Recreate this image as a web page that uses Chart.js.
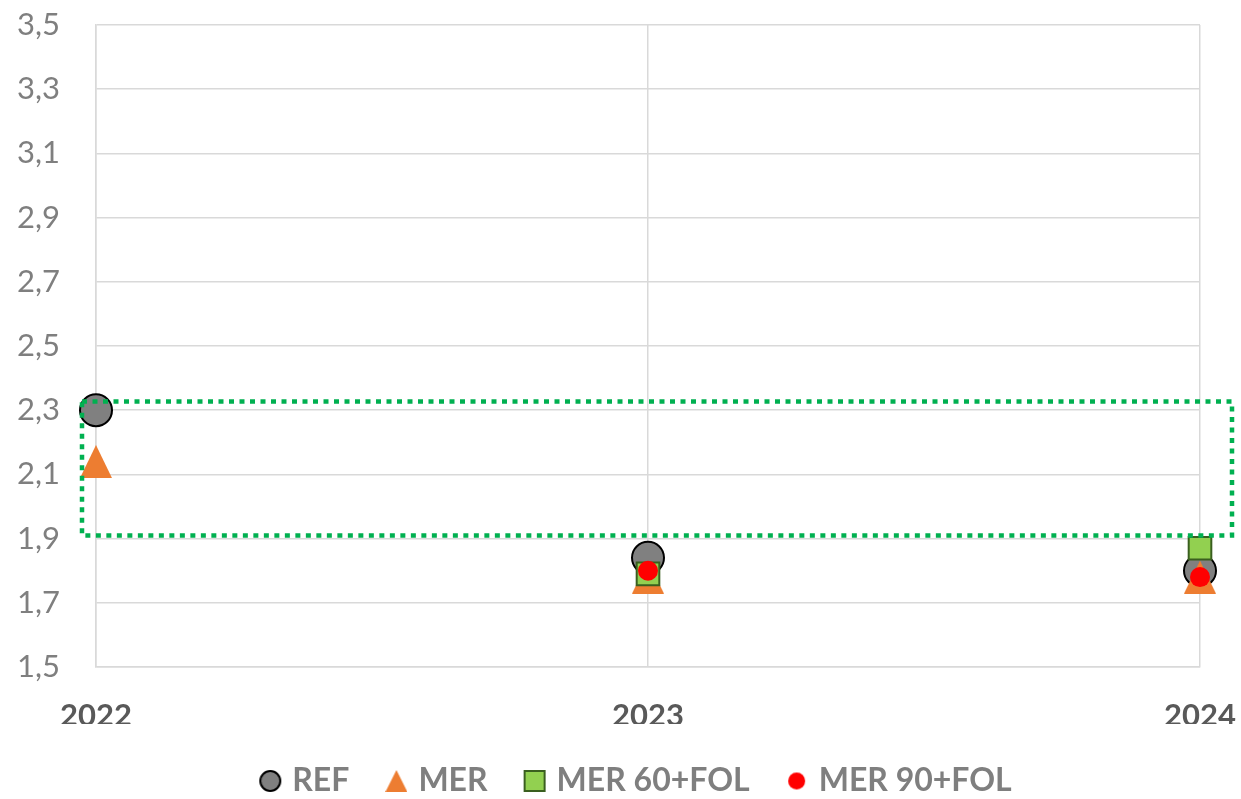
<!DOCTYPE html>
<html>
<head>
<meta charset="utf-8">
<script src="https://cdn.jsdelivr.net/npm/chart.js@4.4.1/dist/chart.umd.min.js"></script>
<style>
  html, body { margin: 0; padding: 0; background: #fff; }
  #wrap { width: 1241px; height: 799px; }
</style>
</head>
<body>
<div id="wrap"><canvas id="myChart"></canvas></div>
<script>
const years = [2022, 2023, 2024];
const yTicks = [1.5, 1.7, 1.9, 2.1, 2.3, 2.5, 2.7, 2.9, 3.1, 3.3, 3.5];
const ref = [2.30, 1.84, 1.80];
const mer = [2.14, 1.78, 1.78];
const mer60 = [null, 1.79, 1.87];
const mer90 = [null, 1.80, 1.78];
// dotted highlight band
const bandTop = 2.327;
const bandBottom = 1.91;

const FONT = 'Lato, "Open Sans", sans-serif';

function pts(arr) {
  return years.map((y, i) => ({ x: y, y: arr[i] }));
}

// Excel-like isosceles triangle (as wide as tall)
function triangle(w, h, color) {
  const c = document.createElement('canvas');
  c.width = w; c.height = h;
  const g = c.getContext('2d');
  g.fillStyle = color;
  g.beginPath();
  g.moveTo(w / 2, 0);
  g.lineTo(w, h);
  g.lineTo(0, h);
  g.closePath();
  g.fill();
  return c;
}

function marker(kind, size) {
  const c = document.createElement('canvas');
  c.width = size + 2; c.height = size + 2;
  const g = c.getContext('2d');
  const m = (size + 2) / 2;
  if (kind === 'ref') {
    g.fillStyle = '#808080'; g.strokeStyle = '#000'; g.lineWidth = 2;
    g.beginPath(); g.arc(m, m, size / 2 - 1, 0, Math.PI * 2); g.fill(); g.stroke();
  } else if (kind === 'sq') {
    g.fillStyle = '#92d050'; g.strokeStyle = '#3a5f1f'; g.lineWidth = 2;
    g.fillRect(2, 2, size - 2, size - 2); g.strokeRect(2, 2, size - 2, size - 2);
  } else {
    g.fillStyle = '#ff0000';
    g.beginPath(); g.arc(m, m, size / 2, 0, Math.PI * 2); g.fill();
  }
  return c;
}

const legendStyles = [marker('ref', 22), triangle(22, 22, '#ed7d31'), marker('sq', 22), marker('red', 17)];

const bandPlugin = {
  id: 'band',
  afterLayout(chart) {
    // centre the legend under the plot like the original
    chart.legend.left += 38;
    chart.legend.right += 38;
  },
  afterDatasetsDraw(chart) {
    const { ctx, scales } = chart;
    const x1 = scales.x.getPixelForValue(years[0]) - 14;
    const x2 = scales.x.getPixelForValue(years[2]) + 32;
    const y1 = scales.y.getPixelForValue(bandTop);
    const y2 = scales.y.getPixelForValue(bandBottom);
    ctx.save();
    ctx.strokeStyle = '#00b050';
    ctx.lineWidth = 4.5;
    ctx.setLineDash([5, 5.5]);
    ctx.strokeRect(x1, y1, x2 - x1, y2 - y1);
    ctx.restore();
  }
};

const ctx1 = document.getElementById('myChart');

new Chart(ctx1, {
  type: 'scatter',
  data: {
    datasets: [{
      label: 'REF',
      data: pts(ref),
      pointStyle: 'circle',
      pointRadius: 16,
      backgroundColor: '#808080',
      borderColor: '#000000',
      borderWidth: 2,
      order: 4,
      clip: false
    }, {
      label: 'MER',
      data: pts(mer),
      pointStyle: triangle(32, 33, '#ed7d31'),
      backgroundColor: '#ed7d31',
      borderColor: '#ed7d31',
      order: 3,
      clip: false
    }, {
      label: 'MER 60+FOL',
      data: pts(mer60),
      pointStyle: 'rect',
      pointRadius: 16,
      backgroundColor: '#92d050',
      borderColor: '#3a5f1f',
      borderWidth: 2,
      order: 2,
      clip: false
    }, {
      label: 'MER 90+FOL',
      data: pts(mer90),
      pointStyle: 'circle',
      pointRadius: 10,
      backgroundColor: '#ff0000',
      borderWidth: 0,
      order: 1,
      clip: false
    }]
  },
  options: {
    responsive: true,
    maintainAspectRatio: false,
    animation: false,
    layout: { padding: { top: 25, right: 41, left: 0, bottom: -8 } },
    plugins: {
      tooltip: { enabled: false },
      legend: {
        position: 'bottom',
        reverse: true,
        labels: {
          usePointStyle: true,
          boxWidth: 12,
          boxHeight: 12,
          padding: 41,
          color: '#7f7f7f',
          font: { family: FONT, size: 32, weight: 'bold' },
          generateLabels: chart => {
            const items = Chart.defaults.plugins.legend.labels.generateLabels(chart);
            items.forEach(it => { it.pointStyle = legendStyles[it.datasetIndex]; });
            return items;
          }
        }
      }
    },
    scales: {
      x: {
        type: 'linear',
        min: 2022,
        max: 2024,
        afterBuildTicks: s => { s.ticks = years.map(v => ({ value: v })); },
        grid: { color: '#d9d9d9', lineWidth: 1.5, drawTicks: false },
        border: { color: '#d9d9d9', width: 1.5 },
        ticks: {
          padding: 30,
          color: '#595959',
          font: { family: FONT, size: 31, weight: 'bold' },
          callback: v => String(v)
        },
        afterFit: s => {
          s.height = 57;
          s.paddingLeft = 0; s.paddingRight = 0;
        }
      },
      y: {
        min: 1.5,
        max: 3.5,
        afterBuildTicks: s => { s.ticks = yTicks.map(v => ({ value: v })); },
        grid: { color: '#d9d9d9', lineWidth: 1.5, drawTicks: false },
        border: { color: '#d9d9d9', width: 1.5 },
        ticks: {
          padding: 36,
          color: '#7f7f7f',
          font: { family: FONT, size: 31 },
          callback: v => v.toFixed(1).replace('.', ',')
        },
        afterFit: s => {
          s.width = 96;
          s.paddingTop = 0; s.paddingBottom = 0;
        }
      }
    }
  },
  plugins: [bandPlugin]
});
</script>
</body>
</html>
